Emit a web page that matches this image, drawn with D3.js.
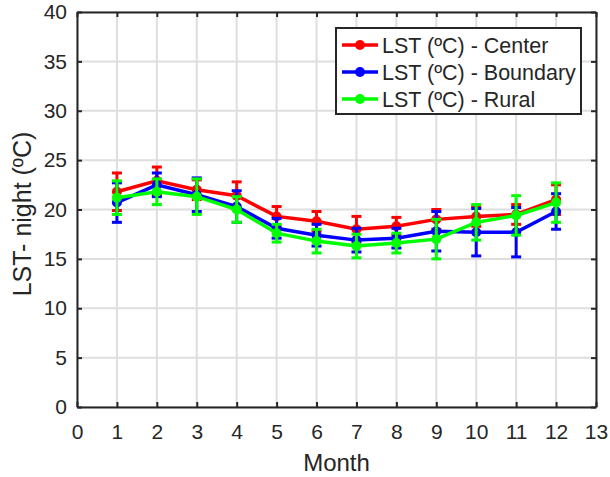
<!DOCTYPE html>
<html>
<head>
<meta charset="utf-8">
<style>
  body { margin: 0; background: #fff; }
  svg text { font-family: "Liberation Sans", Arial, sans-serif; fill: #262626; }
</style>
</head>
<body>
<svg id="chart" width="610" height="477"></svg>
<script src="https://cdn.jsdelivr.net/npm/d3@7"></script>
<script>
// data
var months = [1, 2, 3, 4, 5, 6, 7, 8, 9, 10, 11, 12];
var center   = [21.8, 22.9, 22.0, 21.4, 19.3, 18.8, 18.0, 18.3, 19.0, 19.3, 19.5, 21.0];
var centerErr = [1.9, 1.4, 1.0, 1.4, 1.0, 1.0, 1.3, 0.9, 1.0, 1.0, 1.0, 1.5];
var boundary = [20.7, 22.5, 21.5, 20.3, 18.1, 17.4, 16.9, 17.1, 17.8, 17.7, 17.7, 19.8];
var boundaryErr = [2.0, 1.2, 1.7, 1.6, 1.0, 1.1, 1.2, 1.0, 2.0, 2.4, 2.5, 1.8];
var rural    = [21.2, 21.8, 21.3, 20.0, 17.6, 16.8, 16.3, 16.6, 17.0, 18.7, 19.4, 20.7];
var ruralErr = [1.7, 1.3, 1.8, 1.3, 0.9, 1.2, 1.2, 1.0, 2.0, 1.8, 2.0, 2.0];
var seriesNames = ["LST (ºC) - Center", "LST (ºC) - Boundary", "LST (ºC) - Rural"];
var seriesColors = ["#ff0000", "#0000ff", "#00ff00"];
var xTicks = d3.range(0, 14);
var yTicks = d3.range(0, 41, 5);

var series = [
  { name: seriesNames[0], color: seriesColors[0], vals: center, err: centerErr },
  { name: seriesNames[1], color: seriesColors[1], vals: boundary, err: boundaryErr },
  { name: seriesNames[2], color: seriesColors[2], vals: rural, err: ruralErr }
];

var plotL = 77, plotR = 596, plotT = 12, plotB = 407;
var svg = d3.select('#chart');

var x = d3.scaleLinear().domain([0, 13]).range([plotL, plotR]);
var y = d3.scaleLinear().domain([0, 40]).range([plotB, plotT]);

// grid
var grid = svg.append('g');
grid.selectAll('.gx').data(xTicks).enter().append('line')
  .attr('x1', d => x(d)).attr('x2', d => x(d))
  .attr('y1', plotT).attr('y2', plotB)
  .attr('stroke', '#dedede').attr('stroke-width', 2);
grid.selectAll('.gy').data(yTicks).enter().append('line')
  .attr('x1', plotL).attr('x2', plotR)
  .attr('y1', d => y(d)).attr('y2', d => y(d))
  .attr('stroke', '#dedede').attr('stroke-width', 2);

// axes (ticks inside, MATLAB style)
svg.append('g').attr('transform', 'translate(0,' + plotB + ')')
  .call(d3.axisBottom(x).tickValues(xTicks).tickSizeInner(-5).tickSizeOuter(0).tickPadding(17));
svg.append('g').attr('transform', 'translate(' + plotL + ',0)')
  .call(d3.axisLeft(y).tickValues(yTicks).tickSizeInner(-5).tickSizeOuter(0).tickPadding(10));
svg.append('g').attr('transform', 'translate(0,' + plotT + ')')
  .call(d3.axisTop(x).tickValues(xTicks).tickSizeInner(-5).tickSizeOuter(0).tickFormat(''));
svg.append('g').attr('transform', 'translate(' + plotR + ',0)')
  .call(d3.axisRight(y).tickValues(yTicks).tickSizeInner(-5).tickSizeOuter(0).tickFormat(''));

svg.selectAll('.domain').attr('stroke', '#262626').attr('stroke-width', 2);
svg.selectAll('.tick line').attr('stroke', '#262626').attr('stroke-width', 2);
svg.selectAll('.tick text').style('font-size', '21px').attr('fill', '#262626')
  .style('font-family', '"Liberation Sans", Arial, sans-serif');

// series
var line = d3.line().x((d, i) => x(months[i])).y(d => y(d));
series.forEach(function(s) {
  var g = svg.append('g');
  var eb = g.selectAll('.eb').data(s.vals).enter().append('g');
  eb.append('line')
    .attr('x1', (d, i) => x(months[i])).attr('x2', (d, i) => x(months[i]))
    .attr('y1', (d, i) => y(d - s.err[i])).attr('y2', (d, i) => y(d + s.err[i]))
    .attr('stroke', s.color).attr('stroke-width', 3);
  eb.append('line')
    .attr('x1', (d, i) => x(months[i]) - 5).attr('x2', (d, i) => x(months[i]) + 5)
    .attr('y1', (d, i) => y(d - s.err[i])).attr('y2', (d, i) => y(d - s.err[i]))
    .attr('stroke', s.color).attr('stroke-width', 3);
  eb.append('line')
    .attr('x1', (d, i) => x(months[i]) - 5).attr('x2', (d, i) => x(months[i]) + 5)
    .attr('y1', (d, i) => y(d + s.err[i])).attr('y2', (d, i) => y(d + s.err[i]))
    .attr('stroke', s.color).attr('stroke-width', 3);
  g.append('path').datum(s.vals).attr('d', line)
    .attr('fill', 'none').attr('stroke', s.color).attr('stroke-width', 3.5);
  g.selectAll('circle').data(s.vals).enter().append('circle')
    .attr('cx', (d, i) => x(months[i])).attr('cy', d => y(d)).attr('r', 5)
    .attr('fill', s.color);
});

// legend
var lg = svg.append('g');
lg.append('rect').attr('x', 336).attr('y', 28).attr('width', 245).attr('height', 86)
  .attr('fill', '#fff').attr('stroke', '#262626').attr('stroke-width', 2);
series.forEach(function(s, i) {
  var ly = 45 + i * 27;
  lg.append('line').attr('x1', 342).attr('x2', 378).attr('y1', ly).attr('y2', ly)
    .attr('stroke', s.color).attr('stroke-width', 3.5);
  lg.append('circle').attr('cx', 360).attr('cy', ly).attr('r', 5).attr('fill', s.color);
  lg.append('text').attr('x', 382).attr('y', ly + 7.5).text(s.name)
    .style('font-size', '21.5px');
});

// axis labels
svg.append('text').attr('x', (plotL + plotR) / 2).attr('y', 471).attr('text-anchor', 'middle')
  .style('font-size', '24px').text('Month');
svg.append('text').attr('transform', 'translate(31,214) rotate(-90)')
  .attr('text-anchor', 'middle').style('font-size', '25px').text('LST- night (ºC)');
</script>
</body>
</html>
